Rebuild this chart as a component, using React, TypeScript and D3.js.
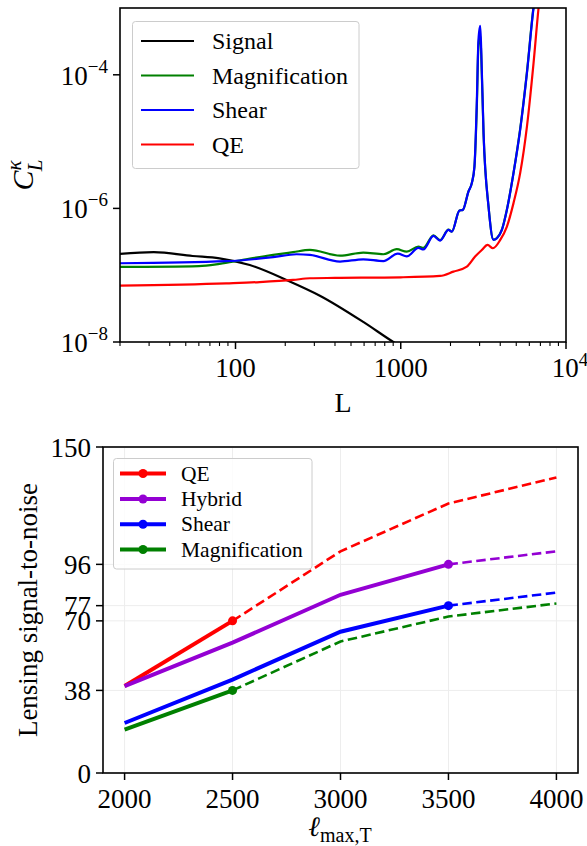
import React, { useEffect, useRef } from "react";
import * as d3 from "d3";

const FONT = "'Liberation Serif', 'Times New Roman', serif";

// ---- top panel: C_L^kappa vs L ----
const signalL = [20, 32, 55, 80, 122, 208, 324, 593, 902, 1200];
const signalC = [2.08e-7, 2.21e-7, 1.94e-7, 1.79e-7, 1.42e-7, 8.28e-8, 4.94e-8, 2.0e-8, 1.0e-8, 6.5e-9];

const magL = [20, 60, 80, 111, 169, 223, 282, 429, 593, 785, 946, 1087, 1279, 1371, 1577, 1730, 1944, 2038, 2266, 2375, 2569, 2692, 2792, 2888, 2952, 3025, 3069, 3170, 3398, 3641, 3819, 4093, 4389, 4812, 5280, 5802, 6362, 7000];
const magC = [1.33e-7, 1.37e-7, 1.48e-7, 1.7e-7, 2.01e-7, 2.21e-7, 2.39e-7, 1.96e-7, 2.18e-7, 2.06e-7, 2.45e-7, 2.25e-7, 2.68e-7, 2.56e-7, 3.95e-7, 3.35e-7, 4.8e-7, 4.5e-7, 9.3e-7, 9.5e-7, 1.8e-6, 2.4e-6, 4.2e-6, 3.5e-5, 2.8e-4, 4.0e-4, 2.0e-4, 1.3e-5, 1.06e-6, 3.4e-7, 3.6e-7, 4.8e-7, 9.6e-7, 3.4e-6, 1.55e-5, 1.1e-4, 1.05e-3, 4e-3];

const shearL = [20, 88, 169, 234, 282, 429, 593, 785, 960, 1087, 1279, 1371, 1577, 1730, 1944, 2038, 2266, 2375, 2569, 2692, 2792, 2888, 2952, 3025, 3069, 3170, 3398, 3641, 3819, 4093, 4389, 4812, 5280, 5802, 6362, 7000];
const shearC = [1.51e-7, 1.62e-7, 1.86e-7, 2.06e-7, 2.01e-7, 1.6e-7, 1.73e-7, 1.63e-7, 2.1e-7, 1.91e-7, 2.56e-7, 2.43e-7, 3.87e-7, 3.3e-7, 4.76e-7, 4.49e-7, 9.27e-7, 9.5e-7, 1.79e-6, 2.39e-6, 4.23e-6, 4.2e-5, 3.3e-4, 5.4e-4, 2.37e-4, 1.35e-5, 1.06e-6, 3.37e-7, 3.58e-7, 4.76e-7, 9.5e-7, 3.37e-6, 1.5e-5, 1.06e-4, 1.0e-3, 4e-3];

const qeL = [20, 88, 140, 223, 282, 400, 1000, 1730, 2084, 2512, 2818, 3097, 3352, 3612, 4000, 4389, 4812, 5280, 5802, 6362, 6823, 7300];
const qeC = [6.97e-8, 7.57e-8, 7.9e-8, 8.49e-8, 9.0e-8, 9.1e-8, 9.3e-8, 9.75e-8, 1.13e-7, 1.34e-7, 1.9e-7, 2.39e-7, 2.84e-7, 2.53e-7, 3.37e-7, 5.34e-7, 1.2e-6, 3.37e-6, 1.68e-5, 1.5e-4, 1.0e-3, 4e-3];

const topNames = ["Signal", "Magnification", "Shear", "QE"];
const topColors = ["#000000", "#008000", "#0000ff", "#ff0000"];

// ---- bottom panel: S/N vs lmax ----
const lmax = [2000, 2500, 3000, 3500, 4000];
const snQE = [40, 70, 102, 124, 136];
const snHybrid = [40, 60, 82, 96, 102];
const snShear = [23, 43, 65, 77, 83];
const snMag = [20, 38, 60.5, 72, 78];
// index of the last point drawn solid (rest is dashed)
const solidEnd = [1, 3, 3, 1];
const botNames = ["QE", "Hybrid", "Shear", "Magnification"];
const botColors = ["#ff0000", "#9400d3", "#0000ff", "#008000"];
const yTicksBot = [0, 38, 70, 77, 96, 150];
const xTicksBot = [2000, 2500, 3000, 3500, 4000];

function drawTop(svg: d3.Selection<SVGSVGElement, unknown, null, undefined>) {
	const m = { left: 120, top: 8, right: 566, bottom: 342 };
	const x = d3.scaleLog().domain([20, 1e4]).range([m.left, m.right]);
	const y = d3.scaleLog().domain([1e-8, 1e-3]).range([m.bottom, m.top]);

	const g = svg.append("g");
	g.append("clipPath").attr("id", "clipTop").append("rect")
		.attr("x", m.left).attr("y", m.top)
		.attr("width", m.right - m.left).attr("height", m.bottom - m.top);

	const line = d3.line<[number, number]>()
		.x((d) => x(d[0]))
		.y((d) => y(d[1]))
		.curve(d3.curveMonotoneX);

	const series: [number[], number[]][] = [
		[signalL, signalC],
		[magL, magC],
		[shearL, shearC],
		[qeL, qeC],
	];
	const lines = g.append("g").attr("clip-path", "url(#clipTop)");
	series.forEach(([L, C], i) => {
		lines.append("path")
			.attr("d", line(d3.zip(L, C) as [number, number][]))
			.attr("fill", "none")
			.attr("stroke", topColors[i])
			.attr("stroke-width", 2.2)
			.attr("stroke-linejoin", "round");
	});

	// frame
	g.append("rect")
		.attr("x", m.left).attr("y", m.top)
		.attr("width", m.right - m.left).attr("height", m.bottom - m.top)
		.attr("fill", "none").attr("stroke", "#000").attr("stroke-width", 1.6);

	// x ticks
	const major = [100, 1000, 10000];
	const minor: number[] = [];
	[10, 100, 1000].forEach((d) => {
		for (let k = 2; k <= 9; k++) if (d * k >= 20) minor.push(d * k);
	});
	minor.forEach((v) => {
		g.append("line").attr("x1", x(v)).attr("x2", x(v))
			.attr("y1", m.bottom).attr("y2", m.bottom + 4)
			.attr("stroke", "#000").attr("stroke-width", 1.1);
	});
	major.forEach((v) => {
		g.append("line").attr("x1", x(v)).attr("x2", x(v))
			.attr("y1", m.bottom).attr("y2", m.bottom + 7)
			.attr("stroke", "#000").attr("stroke-width", 1.5);
	});
	g.append("text").attr("x", x(100)).attr("y", 377).attr("text-anchor", "middle")
		.attr("font-size", 27).attr("font-family", FONT).text("100");
	g.append("text").attr("x", x(1000)).attr("y", 377).attr("text-anchor", "middle")
		.attr("font-size", 27).attr("font-family", FONT).text("1000");
	const t4 = g.append("text").attr("x", x(10000) + 4).attr("y", 377).attr("text-anchor", "middle")
		.attr("font-family", FONT);
	t4.append("tspan").attr("font-size", 27).text("10");
	t4.append("tspan").attr("font-size", 19).attr("dy", -11).text("4");

	// y ticks
	[1e-8, 1e-6, 1e-4].forEach((v) => {
		g.append("line").attr("x1", m.left - 7).attr("x2", m.left)
			.attr("y1", y(v)).attr("y2", y(v))
			.attr("stroke", "#000").attr("stroke-width", 1.5);
		const t = g.append("text").attr("x", m.left - 12).attr("y", y(v) + 10)
			.attr("text-anchor", "end").attr("font-family", FONT);
		t.append("tspan").attr("font-size", 27).text("10");
		t.append("tspan").attr("font-size", 19).attr("dy", -12)
			.text("\u2212" + String(-Math.round(Math.log10(v))));
	});

	// axis labels
	g.append("text").attr("x", 343).attr("y", 412).attr("text-anchor", "middle")
		.attr("font-size", 28).attr("font-family", FONT).text("L");
	const yl = g.append("text")
		.attr("transform", "translate(33,175) rotate(-90)")
		.attr("text-anchor", "middle").attr("font-family", FONT).attr("font-style", "italic");
	yl.append("tspan").attr("font-size", 30).text("C");
	yl.append("tspan").attr("font-size", 21).attr("dy", -12).text("\u03ba");
	yl.append("tspan").attr("font-size", 21).attr("dx", -11).attr("dy", 21).text("L");

	// legend
	const lg = g.append("g");
	lg.append("rect").attr("x", 132.5).attr("y", 21.5).attr("width", 226.5).attr("height", 147)
		.attr("rx", 3).attr("fill", "#fff").attr("fill-opacity", 0.8)
		.attr("stroke", "#cccccc").attr("stroke-width", 1);
	const ys = [41, 75.5, 110, 144.5];
	topNames.forEach((n, i) => {
		lg.append("line").attr("x1", 141).attr("x2", 194).attr("y1", ys[i]).attr("y2", ys[i])
			.attr("stroke", topColors[i]).attr("stroke-width", 2.2);
		lg.append("text").attr("x", 212).attr("y", ys[i] + 8).attr("font-size", 24)
			.attr("font-family", FONT).text(n);
	});
}

function drawBottom(svg: d3.Selection<SVGSVGElement, unknown, null, undefined>) {
	const m = { left: 103, top: 447, right: 578, bottom: 773 };
	const x = d3.scaleLinear().domain([1900, 4100]).range([m.left, m.right]);
	const y = d3.scaleLinear().domain([0, 150]).range([m.bottom, m.top]);
	const g = svg.append("g");

	// grid
	xTicksBot.forEach((v) => {
		g.append("line").attr("x1", x(v)).attr("x2", x(v)).attr("y1", m.top).attr("y2", m.bottom)
			.attr("stroke", "#ededed").attr("stroke-width", 1);
	});
	yTicksBot.forEach((v) => {
		g.append("line").attr("x1", m.left).attr("x2", m.right).attr("y1", y(v)).attr("y2", y(v))
			.attr("stroke", "#ededed").attr("stroke-width", 1);
	});

	const line = d3.line<[number, number]>().x((d) => x(d[0])).y((d) => y(d[1]));
	const all = [snQE, snHybrid, snShear, snMag];
	all.forEach((vals, i) => {
		const pts = d3.zip(lmax, vals) as [number, number][];
		const e = solidEnd[i];
		g.append("path").attr("d", line(pts.slice(e)))
			.attr("fill", "none").attr("stroke", botColors[i])
			.attr("stroke-width", 2.6).attr("stroke-dasharray", "9.5,4.5");
		g.append("path").attr("d", line(pts.slice(0, e + 1)))
			.attr("fill", "none").attr("stroke", botColors[i])
			.attr("stroke-width", 4).attr("stroke-linecap", "butt");
		g.append("circle").attr("cx", x(pts[e][0])).attr("cy", y(pts[e][1])).attr("r", 4.5)
			.attr("fill", botColors[i]);
	});

	// frame
	g.append("rect")
		.attr("x", m.left).attr("y", m.top)
		.attr("width", m.right - m.left).attr("height", m.bottom - m.top)
		.attr("fill", "none").attr("stroke", "#000").attr("stroke-width", 1.6);

	xTicksBot.forEach((v) => {
		g.append("line").attr("x1", x(v)).attr("x2", x(v)).attr("y1", m.bottom).attr("y2", m.bottom + 7)
			.attr("stroke", "#000").attr("stroke-width", 1.5);
		g.append("text").attr("x", x(v)).attr("y", 808).attr("text-anchor", "middle")
			.attr("font-size", 27).attr("font-family", FONT).text(String(v));
	});
	yTicksBot.forEach((v) => {
		g.append("line").attr("x1", m.left - 7).attr("x2", m.left).attr("y1", y(v)).attr("y2", y(v))
			.attr("stroke", "#000").attr("stroke-width", 1.5);
		g.append("text").attr("x", 91).attr("y", y(v) + 9.5).attr("text-anchor", "end")
			.attr("font-size", 27).attr("font-family", FONT).text(String(v));
	});

	// axis labels
	g.append("text").attr("transform", "translate(37,610) rotate(-90)").attr("text-anchor", "middle")
		.attr("font-size", 27).attr("font-family", FONT).text("Lensing signal-to-noise");
	const xl = g.append("text").attr("x", 340).attr("y", 836).attr("text-anchor", "middle")
		.attr("font-family", FONT);
	xl.append("tspan").attr("font-size", 28).attr("font-style", "italic").text("\u2113");
	xl.append("tspan").attr("font-size", 20).attr("dy", 6).text("max,T");

	// legend
	const lg = g.append("g");
	lg.append("rect").attr("x", 113.5).attr("y", 458.5).attr("width", 198.5).attr("height", 110.5)
		.attr("rx", 3).attr("fill", "#fff").attr("fill-opacity", 0.8)
		.attr("stroke", "#cccccc").attr("stroke-width", 1);
	const ys = [473.5, 499, 524.3, 549.5];
	botNames.forEach((n, i) => {
		lg.append("line").attr("x1", 120).attr("x2", 166).attr("y1", ys[i]).attr("y2", ys[i])
			.attr("stroke", botColors[i]).attr("stroke-width", 4);
		lg.append("circle").attr("cx", 143).attr("cy", ys[i]).attr("r", 4.5).attr("fill", botColors[i]);
		lg.append("text").attr("x", 181).attr("y", ys[i] + 7).attr("font-size", 21.5)
			.attr("font-family", FONT).text(n);
	});
}

export default function App() {
	const ref = useRef<SVGSVGElement>(null);

	useEffect(() => {
		if (!ref.current) return;
		const svg = d3.select(ref.current);
		svg.selectAll("*").remove();
		drawTop(svg);
		drawBottom(svg);
	}, []);

	return (
		<div style={{ position: "absolute", left: 0, top: 0 }}>
			<svg ref={ref} width={587} height={846} style={{ display: "block", background: "#fff" }} />
		</div>
	);
}
